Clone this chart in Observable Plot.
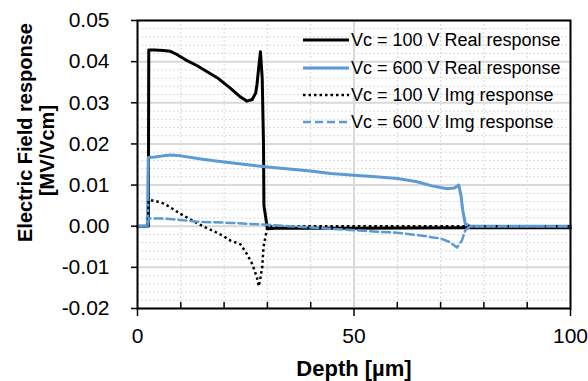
<!DOCTYPE html>
<html><head><meta charset="utf-8">
<script src="https://cdn.jsdelivr.net/npm/d3@7"></script>
<script src="https://cdn.jsdelivr.net/npm/@observablehq/plot@0.6"></script>
<style>
body{margin:0;background:#fff;}
#chart{width:588px;height:381px;}
</style></head><body><div id="chart"></div>
<script>
// ---- data ----
const seriesNames = ["Vc = 100 V Real response","Vc = 600 V Real response","Vc = 100 V Img response","Vc = 600 V Img response"];

const real100X = [0,2.5,2.6,4,6,7.6,9,11,13.8,16,18.4,21.5,23.8,25.3,26.5,27.3,27.6,28,28.4,28.8,29.1,29.2,30.0,32,50,75,100];
const real100Y = [0,0,0.0428,0.0428,0.0427,0.0425,0.0418,0.0405,0.039,0.0376,0.0361,0.0335,0.0314,0.0304,0.0308,0.0324,0.0345,0.0386,0.0424,0.036,0.02,0.005,-0.0006,-0.0005,-0.0005,-0.0004,-0.0004];

const real600X = [0,2.3,2.5,4,6,7.6,10,15,20,25,30,35,40,44.6,50,55,60,64.6,68,71.5,73.2,74.2,74.7,75.1,75.7,76.9,100];
const real600Y = [0,0,0.0167,0.0168,0.0171,0.0173,0.0171,0.0163,0.0156,0.015,0.0144,0.0139,0.0134,0.0128,0.0124,0.012,0.0116,0.0108,0.0098,0.0091,0.0093,0.0100,0.0075,0.004,0.0006,0,0];

const img100X = [0,2.4,2.6,4,6.1,8,9.9,12,13.8,15.5,17.6,19.5,21.5,23.8,25.3,26.5,27.6,28,28.4,28.8,29.1,29.6,29.9,30.3,100];
const img100Y = [0,0,0.0063,0.0062,0.0055,0.0043,0.003,0.0018,0.0007,-0.0002,-0.0012,-0.0022,-0.0035,-0.0044,-0.0068,-0.0092,-0.0125,-0.0146,-0.0125,-0.010,-0.0051,-0.0023,-0.0007,0,0];

const img600X = [0,2.4,2.6,5,8,13.8,21.5,29.1,35,44.6,52,60,65,70,72,73.8,74.9,75.7,76.9,100];
const img600Y = [0,0,0.0019,0.0019,0.0017,0.0011,0.0008,0.0004,0,-0.0006,-0.0011,-0.0016,-0.0022,-0.003,-0.0038,-0.0052,-0.0035,-0.001,0,0];

const yTicks = [-0.02,-0.01,0,0.01,0.02,0.03,0.04,0.05];
const xTicks = [0,50,100];
const xMinorTicks = [10,20,30,40,60,70,80,90];
const yMinorGrid = d3.range(-20,51,2).filter(v => v % 10 !== 0).map(v => v/1000);

const colors = ["#000000","#5b9bd5","#000000","#5b9bd5"];
const toRows = (xs, ys) => xs.map((x,i) => ({x, y: ys[i]}));
const data = [toRows(real100X,real100Y), toRows(real600X,real600Y), toRows(img100X,img100Y), toRows(img600X,img600Y)];
const styles = [
  {strokeWidth:3, dash:null},
  {strokeWidth:3, dash:null},
  {strokeWidth:2.5, dash:"2.5,3"},
  {strokeWidth:2.5, dash:"8,4"}
];

const fmt = d => d3.format(".2f")(d).replace("\u2212","-");

const plot = Plot.plot({
  width:588, height:381,
  marginLeft:137, marginRight:18, marginTop:20, marginBottom:73,
  x:{domain:[0,100]},
  y:{domain:[-0.02,0.05]},
  style:{fontFamily:"'Liberation Sans', Arial, sans-serif", color:"#000", background:"#fff", overflow:"visible"},
  marks:[
    Plot.ruleY(yMinorGrid, {stroke:"#d9d9d9", strokeWidth:1, strokeDasharray:"2,2"}),
    Plot.ruleX(xMinorTicks, {stroke:"#d9d9d9", strokeWidth:1, strokeDasharray:"2,2"}),
    Plot.ruleY(yTicks, {stroke:"#d9d9d9", strokeWidth:2}),
    Plot.ruleX([50], {stroke:"#d9d9d9", strokeWidth:2}),
    ...data.map((d,i) => Plot.line(d, {x:"x", y:"y", stroke:colors[i], strokeWidth:styles[i].strokeWidth,
        strokeDasharray:styles[i].dash, strokeLinejoin:"round", strokeLinecap: i===2 ? "butt" : "round"})),
    Plot.frame({stroke:"#000", strokeWidth:2}),
    Plot.axisY({ticks:yTicks, tickSize:6, tickPadding:22, tickFormat:fmt, label:null, fontSize:21, strokeWidth:1.5}),
    Plot.axisX({ticks:xTicks, tickSize:8, tickPadding:12, label:null, fontSize:21, strokeWidth:1.5}),
    Plot.axisX({ticks:xMinorTicks, tickSize:-6, tickFormat:() => "", label:null, strokeWidth:1.5}),
    Plot.text(["Depth [µm]"], {frameAnchor:"bottom", dy:60, fontWeight:"bold", fontSize:22, lineAnchor:"middle", textAnchor:"middle"}),
    Plot.text(["Electric Field response"], {frameAnchor:"left", rotate:-90, dx:-112, dy:-32, fontWeight:"bold", fontSize:20, lineAnchor:"middle", textAnchor:"middle"}),
    Plot.text(["[MV/Vcm]"], {frameAnchor:"left", rotate:-90, dx:-90, dy:-14, fontWeight:"bold", fontSize:20, lineAnchor:"middle", textAnchor:"middle"})
  ]
});

document.getElementById("chart").appendChild(plot);

// legend (inside the plot area, top right, transparent background)
const svg = d3.select(plot);
const lg = svg.append("g").attr("font-family","'Liberation Sans', Arial, sans-serif").attr("font-size",18).attr("text-anchor","start");
const rowY = [40, 68, 95, 122];
seriesNames.forEach((name,i) => {
  const g = lg.append("g").attr("transform",`translate(303,${rowY[i]})`);
  g.append("line").attr("x1",0).attr("x2",46).attr("y1",0).attr("y2",0)
    .attr("stroke",colors[i]).attr("stroke-width",styles[i].strokeWidth)
    .attr("stroke-dasharray",styles[i].dash);
  g.append("text").attr("x",48).attr("y",0).attr("dy","0.35em").attr("fill","#000").attr("text-anchor","start").text(name);
});
</script>
</body></html>
